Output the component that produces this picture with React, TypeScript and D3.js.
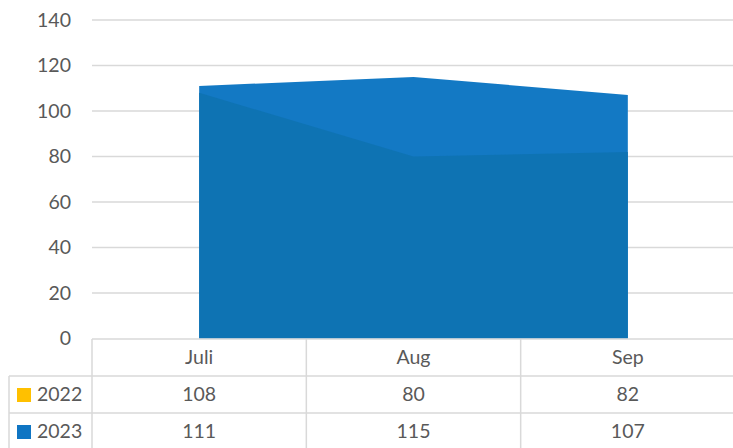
import React from "react";
import * as d3 from "d3";

const categories = ["Juli", "Aug", "Sep"];
const series2022 = [108, 80, 82];
const series2023 = [111, 115, 107];
const seriesNames = ["2022", "2023"];
const yTicks = [0, 20, 40, 60, 80, 100, 120, 140];

const W = 733;
const H = 448;
const left = 92;
const right = 735;
const top = 20;
const bottom = 338.5;
const rowH = [37, 37, 37];
const font = "Lato, 'Open Sans', sans-serif";
const textColor = "#595959";
const lineColor = "#d9d9d9";

export default function App() {
  const x = d3.scaleBand<string>().domain(categories).range([left, right]);
  const cx = (c: string) => (x(c) as number) + x.bandwidth() / 2;
  const y = d3.scaleLinear().domain([0, 140]).range([bottom, top]);

  const area = d3
    .area<number>()
    .x((_, i) => cx(categories[i]))
    .y0(y(0))
    .y1((d) => y(d));

  const tableTop = bottom + 0.5;
  const r1 = tableTop + rowH[0];
  const r2 = r1 + rowH[1];

  const rows = [
    { name: seriesNames[0], color: "#FFC000", vals: series2022, yTop: r1 },
    { name: seriesNames[1], color: "#0F75C3", vals: series2023, yTop: r2 },
  ];

  return (
    <svg
      width={W}
      height={H}
      style={{ position: "absolute", left: 0, top: 0, background: "#fff" }}
      fontFamily={font}
    >
      {yTicks.map((t) => (
        <g key={t}>
          {t > 0 && (
            <line x1={left} x2={W} y1={y(t)} y2={y(t)} stroke={lineColor} strokeWidth={1.5} />
          )}
          <text
            x={71}
            y={y(t)}
            dy="0.35em"
            textAnchor="end"
            fontSize={19.5}
            fill={textColor}
          >
            {t}
          </text>
        </g>
      ))}
      <path d={area(series2023) || ""} fill="#1077C3" opacity={0.99} />
      <path d={area(series2022) || ""} fill="#0E73B3" opacity={0.97} />

      {/* data table */}
      <g stroke={lineColor} strokeWidth={1.5} fill="none">
        <line x1={left} x2={W} y1={tableTop} y2={tableTop} />
        <line x1={9} x2={W} y1={r1} y2={r1} />
        <line x1={9} x2={W} y1={r2} y2={r2} />
        <line x1={9} x2={9} y1={r1} y2={H} />
        {categories.map((c) => (
          <line key={c} x1={x(c) as number} x2={x(c) as number} y1={tableTop} y2={H} />
        ))}
        <line x1={right - 1} x2={right - 1} y1={tableTop} y2={H} />
      </g>
      {categories.map((c) => (
        <text
          key={c}
          x={cx(c)}
          y={(tableTop + r1) / 2}
          dy="0.35em"
          textAnchor="middle"
          fontSize={19.5}
          fill={textColor}
        >
          {c}
        </text>
      ))}
      {rows.map((r) => (
        <g key={r.name}>
          <rect x={17} y={r.yTop + 12} width={14} height={14} fill={r.color} />
          <text x={37} y={r.yTop + rowH[1] / 2} dy="0.35em" fontSize={19.5} fill={textColor}>
            {r.name}
          </text>
          {r.vals.map((v, i) => (
            <text
              key={i}
              x={cx(categories[i])}
              y={r.yTop + rowH[1] / 2}
              dy="0.35em"
              textAnchor="middle"
              fontSize={19.5}
              fill={textColor}
            >
              {v}
            </text>
          ))}
        </g>
      ))}
    </svg>
  );
}
